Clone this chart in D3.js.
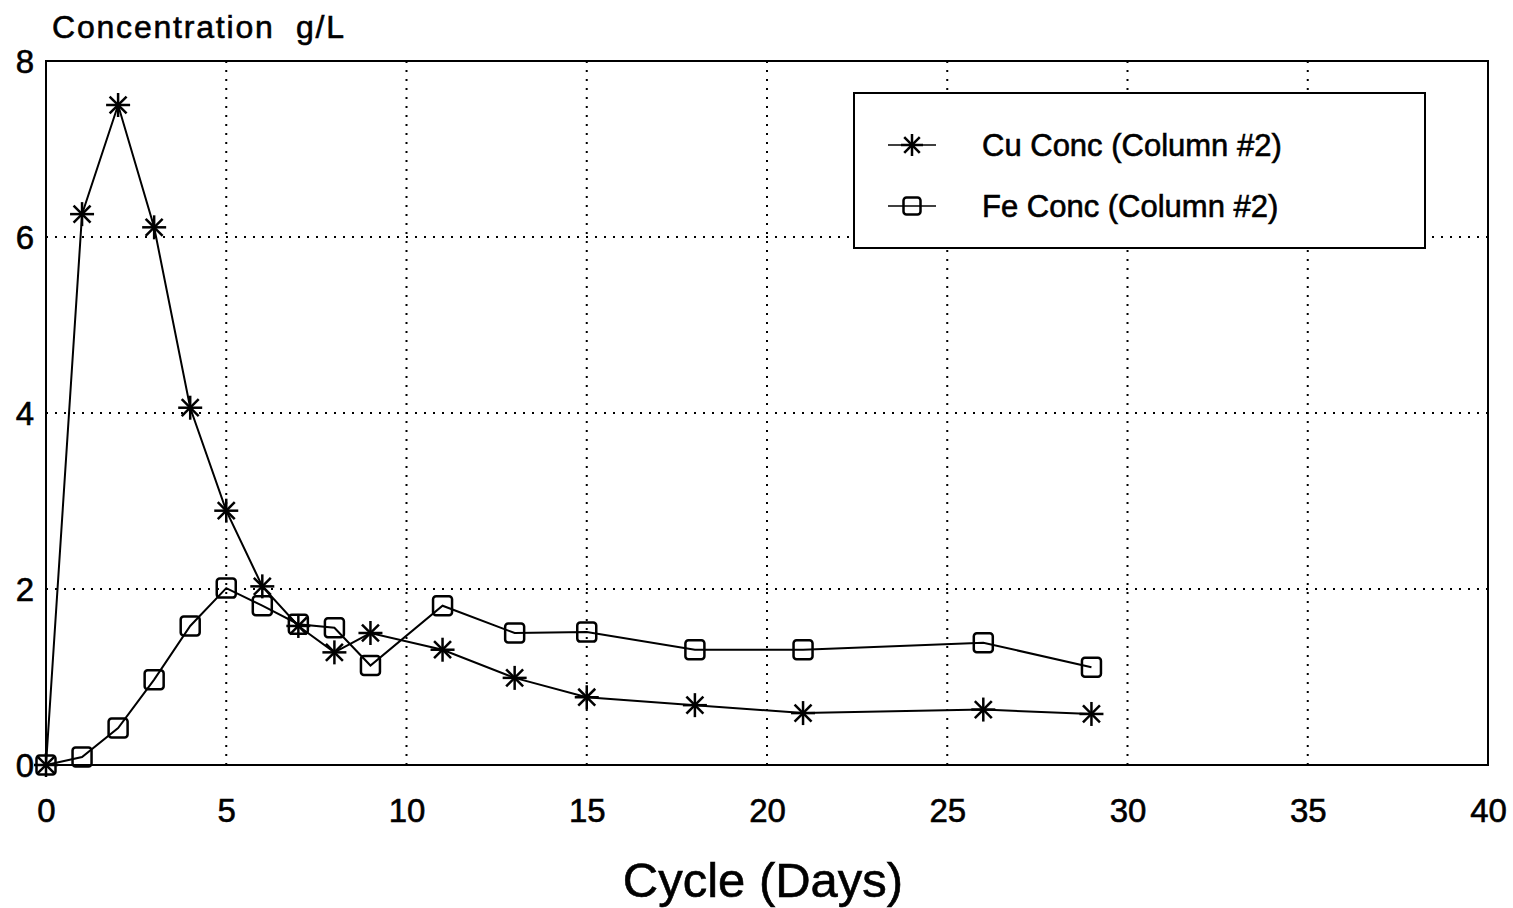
<!DOCTYPE html>
<html lang="en">
<head>
<meta charset="utf-8">
<title>Concentration vs Cycle</title>
<script src="https://cdn.jsdelivr.net/npm/d3@7"></script>
<style>
  body { margin: 0; background: #fff; }
  text { font-family: "Liberation Sans", Arial, sans-serif; fill: #000; stroke: #000; stroke-width: 0.6px; white-space: pre; }
  .grid line { stroke: #000; stroke-width: 2; stroke-dasharray: 2 7; }
</style>
</head>
<body>
<script>
// data
var days   = [0, 1, 2, 3, 4, 5, 6, 7, 8, 9, 11, 13, 15, 18, 21, 26, 29];
var cuConc = [0, 6.26, 7.5, 6.11, 4.06, 2.89, 2.03, 1.58, 1.28, 1.5, 1.31, 0.99, 0.77, 0.68, 0.59, 0.63, 0.58];
var feConc = [0, 0.09, 0.42, 0.97, 1.58, 2.01, 1.81, 1.6, 1.56, 1.13, 1.81, 1.5, 1.51, 1.31, 1.31, 1.39, 1.11];
var xTicks = [0, 5, 10, 15, 20, 25, 30, 35, 40];
var yTicks = [0, 2, 4, 6, 8];
var seriesNames = ["Cu Conc (Column #2)", "Fe Conc (Column #2)"];

var width = 1513, height = 908;
var plotLeft = 46, plotRight = 1488, plotTop = 61, plotBottom = 765;

var svg = d3.select("body").append("svg")
    .attr("width", width)
    .attr("height", height);

var x = d3.scaleLinear().domain([0, 40]).range([plotLeft, plotRight]);
var y = d3.scaleLinear().domain([0, 8]).range([plotBottom, plotTop]);

// grid --------------------------------------------------------------
var grid = svg.append("g").attr("class", "grid");
grid.selectAll(".vx").data(xTicks.filter(d => d > 0 && d < 40)).join("line")
    .attr("x1", d => x(d)).attr("x2", d => x(d))
    .attr("y1", plotTop).attr("y2", plotBottom);
grid.selectAll(".hy").data(yTicks.filter(d => d > 0 && d < 8)).join("line")
    .attr("x1", plotLeft).attr("x2", plotRight)
    .attr("y1", d => y(d)).attr("y2", d => y(d));

// frame
svg.append("rect")
    .attr("x", plotLeft).attr("y", plotTop)
    .attr("width", plotRight - plotLeft).attr("height", plotBottom - plotTop)
    .attr("fill", "none").attr("stroke", "#000").attr("stroke-width", 2);

// axes --------------------------------------------------------------
var xAxis = d3.axisBottom(x).tickValues(xTicks).tickSize(0).tickPadding(34);
svg.append("g").attr("transform", "translate(0," + plotBottom + ")").call(xAxis)
    .call(g => g.select(".domain").remove())
    .selectAll("text").style("font-size", "33px").attr("fill", "#000");

var yAxis = d3.axisLeft(y).tickValues(yTicks).tickSize(0).tickPadding(12);
svg.append("g").attr("transform", "translate(" + plotLeft + ",0)").call(yAxis)
    .call(g => g.select(".domain").remove())
    .selectAll("text").style("font-size", "33px").attr("fill", "#000").attr("dy", "0.36em");

svg.append("text")
    .attr("x", 52).attr("y", 38)
    .style("font-size", "32px")
    .style("letter-spacing", "1.8px")
    .text("Concentration  g/L");

svg.append("text")
    .attr("x", 763).attr("y", 897)
    .attr("text-anchor", "middle")
    .style("font-size", "49px")
    .text("Cycle (Days)");

// lines -------------------------------------------------------------
var line = d3.line().x(d => x(d[0])).y(d => y(d[1]));
var cuData = days.map((d, i) => [d, cuConc[i]]);
var feData = days.map((d, i) => [d, feConc[i]]);

[cuData, feData].forEach(function(data) {
    svg.append("path")
        .datum(data)
        .attr("d", line)
        .attr("fill", "none")
        .attr("stroke", "#000")
        .attr("stroke-width", 2);
});

function star(g, r) {
    for (var k = 0; k < 4; k++) {
        var a = k * Math.PI / 4;
        g.append("line")
            .attr("x1", -r * Math.cos(a)).attr("y1", -r * Math.sin(a))
            .attr("x2", r * Math.cos(a)).attr("y2", r * Math.sin(a))
            .attr("stroke", "#000").attr("stroke-width", 2.5);
    }
}
function square(g, s) {
    g.append("rect")
        .attr("x", -s / 2).attr("y", -s / 2)
        .attr("width", s).attr("height", s)
        .attr("rx", 3)
        .attr("fill", "none").attr("stroke", "#000").attr("stroke-width", 2.5);
}

svg.append("g").selectAll("g").data(feData).join("g")
    .attr("transform", d => "translate(" + x(d[0]) + "," + y(d[1]) + ")")
    .each(function() { square(d3.select(this), 19); });

svg.append("g").selectAll("g").data(cuData).join("g")
    .attr("transform", d => "translate(" + x(d[0]) + "," + y(d[1]) + ")")
    .each(function() { star(d3.select(this), 12); });

// legend ------------------------------------------------------------
var legend = svg.append("g");
legend.append("rect")
    .attr("x", 854).attr("y", 93).attr("width", 571).attr("height", 155)
    .attr("fill", "#fff").attr("stroke", "#000").attr("stroke-width", 2);

seriesNames.forEach(function(name, i) {
    var ly = 145 + i * 61;
    legend.append("line")
        .attr("x1", 888).attr("x2", 936).attr("y1", ly).attr("y2", ly)
        .attr("stroke", "#000").attr("stroke-width", 1.5);
    var m = legend.append("g").attr("transform", "translate(912," + ly + ")");
    if (i === 0) star(m, 11); else square(m, 17);
    legend.append("text")
        .attr("x", 982).attr("y", ly + 11)
        .style("font-size", "31px")
        .text(name);
});
</script>
</body>
</html>
